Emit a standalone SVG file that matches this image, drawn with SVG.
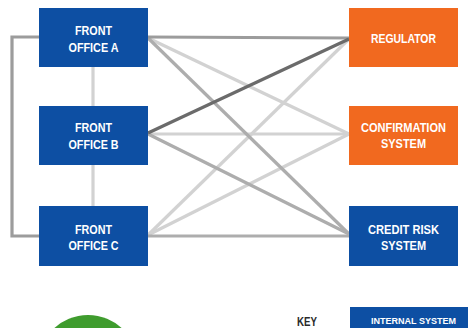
<svg xmlns="http://www.w3.org/2000/svg" width="469" height="328" viewBox="0 0 469 328">
<style>
.blue{fill:#0d4fa3}
.orange{fill:#f1691f}
.t{font-family:"Liberation Sans",Arial,sans-serif;font-weight:bold;font-size:12.5px;fill:#fff;text-anchor:middle}
.k{font-family:"Liberation Sans",Arial,sans-serif;font-weight:bold;font-size:12px;fill:#2a2a2a;text-anchor:middle}
.c{fill:none;stroke-width:3.2}
.mid{stroke:#9c9c9c}
.gr{stroke:#adadad}
.lt{stroke:#d2d2d2}
.dk{stroke:#6b6b6b}
</style>
<rect width="469" height="328" fill="#fff"/>
<g id="connectors">
<polyline class="c mid" points="39,37 12,37 12,236 39,236"/>
<line class="c lt" x1="93" y1="67" x2="93" y2="106"/>
<line class="c lt" x1="93" y1="165" x2="93" y2="206"/>
<line class="c lt" x1="148" y1="38" x2="349" y2="134"/>
<line class="c lt" x1="148" y1="134" x2="349" y2="134"/>
<line class="c lt" x1="148" y1="235" x2="349" y2="39"/>
<line class="c lt" x1="148" y1="235" x2="349" y2="134"/>
<line class="c gr" x1="148" y1="38" x2="349" y2="234"/>
<line class="c gr" x1="148" y1="134" x2="349" y2="234"/>
<line class="c gr" x1="148" y1="236" x2="349" y2="236"/>
<line class="c mid" x1="148" y1="37" x2="349" y2="38"/>
<line class="c dk" x1="148" y1="133" x2="349" y2="39"/>
</g>
<g id="front-office-a"><rect class="blue" x="39" y="8" width="109" height="59"/><text class="t" x="93.5" y="35" textLength="37" lengthAdjust="spacingAndGlyphs">FRONT</text><text class="t" x="93.5" y="51.5" textLength="50" lengthAdjust="spacingAndGlyphs">OFFICE A</text></g>
<g id="front-office-b"><rect class="blue" x="39" y="106" width="109" height="59"/><text class="t" x="93.5" y="131.7" textLength="37" lengthAdjust="spacingAndGlyphs">FRONT</text><text class="t" x="93.5" y="149" textLength="50" lengthAdjust="spacingAndGlyphs">OFFICE B</text></g>
<g id="front-office-c"><rect class="blue" x="39" y="206" width="109" height="60"/><text class="t" x="93.5" y="234.3" textLength="37" lengthAdjust="spacingAndGlyphs">FRONT</text><text class="t" x="93.5" y="250" textLength="50" lengthAdjust="spacingAndGlyphs">OFFICE C</text></g>
<g id="regulator"><rect class="orange" x="349" y="8" width="109" height="59"/><text class="t" x="403.5" y="43.3" textLength="65" lengthAdjust="spacingAndGlyphs">REGULATOR</text></g>
<g id="confirmation-system"><rect class="orange" x="349" y="106" width="109" height="59"/><text class="t" x="403.5" y="131.7" textLength="85" lengthAdjust="spacingAndGlyphs">CONFIRMATION</text><text class="t" x="403.5" y="148.3" textLength="45" lengthAdjust="spacingAndGlyphs">SYSTEM</text></g>
<g id="credit-risk-system"><rect class="blue" x="349" y="206" width="109" height="60"/><text class="t" x="403.5" y="234.3" textLength="71" lengthAdjust="spacingAndGlyphs">CREDIT RISK</text><text class="t" x="403.5" y="250" textLength="45" lengthAdjust="spacingAndGlyphs">SYSTEM</text></g>
<g id="key">
<text class="k" x="307" y="326" textLength="20" lengthAdjust="spacingAndGlyphs">KEY</text>
<rect class="blue" x="350" y="307" width="118" height="30"/>
<text class="t" x="413.5" y="324.3" style="font-size:9.8px" textLength="85" lengthAdjust="spacingAndGlyphs">INTERNAL SYSTEM</text>
</g>
<circle cx="88" cy="365" r="50" fill="#3f9c2e"/>
</svg>
